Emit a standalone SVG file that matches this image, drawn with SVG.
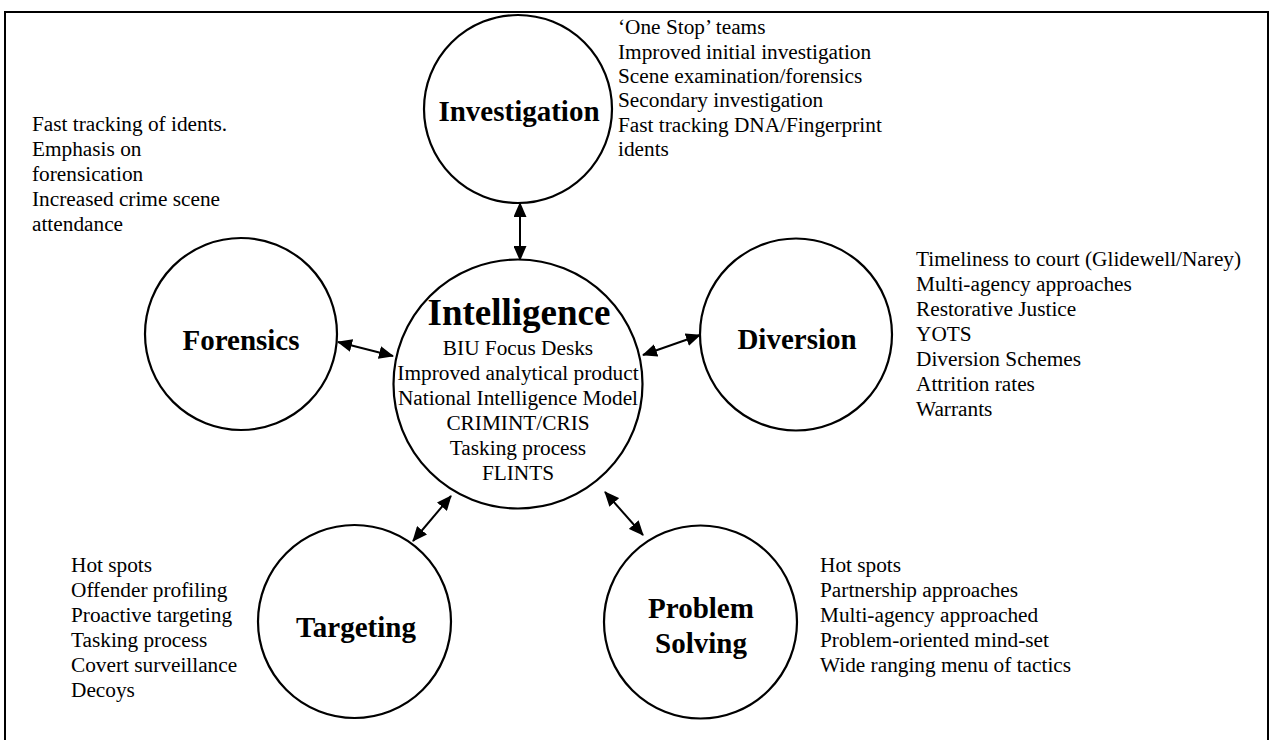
<svg xmlns="http://www.w3.org/2000/svg" width="1274" height="740" viewBox="0 0 1274 740">
<style>
.frame{fill:none;stroke:#000;stroke-width:2}
.node{fill:#fff;stroke:#000;stroke-width:2.2}
.title{font-family:"Liberation Serif","Times New Roman",serif;font-weight:bold;font-size:29px;fill:#000;text-anchor:middle}
.big{font-family:"Liberation Serif","Times New Roman",serif;font-weight:bold;font-size:37px;fill:#000;text-anchor:middle}
.note{font-family:"Liberation Serif","Times New Roman",serif;font-size:21.3px;fill:#000}
.mid{text-anchor:middle}
.conn{stroke:#000;stroke-width:2;fill:none;marker-start:url(#ah);marker-end:url(#ah)}
</style>
<defs>
<marker id="ah" viewBox="0 0 15 13" refX="14" refY="6.5" markerWidth="15" markerHeight="13" markerUnits="userSpaceOnUse" orient="auto-start-reverse">
<path d="M0,0 L15,6.5 L0,13 z" fill="#000"/>
</marker>
</defs>
<rect width="1274" height="740" fill="#fff"/>
<path class="frame" d="M5,742 L5,12 L1268,12 L1268,742"/>

<g id="connectors">
<line class="conn" x1="520" y1="203" x2="520" y2="260"/>
<line class="conn" x1="338" y1="342" x2="393" y2="356"/>
<line class="conn" x1="700" y1="335" x2="643" y2="355"/>
<line class="conn" x1="413" y1="541" x2="451" y2="496"/>
<line class="conn" x1="643" y1="535" x2="605" y2="492"/>
</g>

<g id="investigation">
<circle class="node" cx="518" cy="109" r="94"/>
<text class="title" x="519" y="121">Investigation</text>
<text class="note" x="618" y="34">‘One Stop’ teams</text>
<text class="note" x="618" y="59">Improved initial investigation</text>
<text class="note" x="618" y="83">Scene examination/forensics</text>
<text class="note" x="618" y="107">Secondary investigation</text>
<text class="note" x="618" y="132">Fast tracking DNA/Fingerprint</text>
<text class="note" x="618" y="156">idents</text>
</g>

<g id="forensics">
<circle class="node" cx="241" cy="334" r="96"/>
<text class="title" x="241" y="350">Forensics</text>
<text class="note" x="32" y="131">Fast tracking of idents.</text>
<text class="note" x="32" y="156">Emphasis on</text>
<text class="note" x="32" y="181">forensication</text>
<text class="note" x="32" y="206">Increased crime scene</text>
<text class="note" x="32" y="231">attendance</text>
</g>

<g id="intelligence">
<circle class="node" cx="518" cy="384" r="124.5"/>
<text class="big" x="519" y="325">Intelligence</text>
<text class="note mid" x="518" y="355">BIU Focus Desks</text>
<text class="note mid" x="518" y="380">Improved analytical product</text>
<text class="note mid" x="518" y="405">National Intelligence Model</text>
<text class="note mid" x="518" y="430">CRIMINT/CRIS</text>
<text class="note mid" x="518" y="455">Tasking process</text>
<text class="note mid" x="518" y="480">FLINTS</text>
</g>

<g id="diversion">
<circle class="node" cx="796" cy="334.5" r="96"/>
<text class="title" x="797" y="349">Diversion</text>
<text class="note" x="916" y="266">Timeliness to court (Glidewell/Narey)</text>
<text class="note" x="916" y="291">Multi-agency approaches</text>
<text class="note" x="916" y="316">Restorative Justice</text>
<text class="note" x="916" y="341">YOTS</text>
<text class="note" x="916" y="366">Diversion Schemes</text>
<text class="note" x="916" y="391">Attrition rates</text>
<text class="note" x="916" y="416">Warrants</text>
</g>

<g id="targeting">
<circle class="node" cx="354.5" cy="621.5" r="96.5"/>
<text class="title" x="356" y="637">Targeting</text>
<text class="note" x="71" y="572">Hot spots</text>
<text class="note" x="71" y="597">Offender profiling</text>
<text class="note" x="71" y="622">Proactive targeting</text>
<text class="note" x="71" y="647">Tasking process</text>
<text class="note" x="71" y="672">Covert surveillance</text>
<text class="note" x="71" y="697">Decoys</text>
</g>

<g id="problem-solving">
<circle class="node" cx="700.5" cy="622" r="96.5"/>
<text class="title" x="701" y="618">Problem</text>
<text class="title" x="701" y="653">Solving</text>
<text class="note" x="820" y="572">Hot spots</text>
<text class="note" x="820" y="597">Partnership approaches</text>
<text class="note" x="820" y="622">Multi-agency approached</text>
<text class="note" x="820" y="647">Problem-oriented mind-set</text>
<text class="note" x="820" y="672">Wide ranging menu of tactics</text>
</g>
</svg>
